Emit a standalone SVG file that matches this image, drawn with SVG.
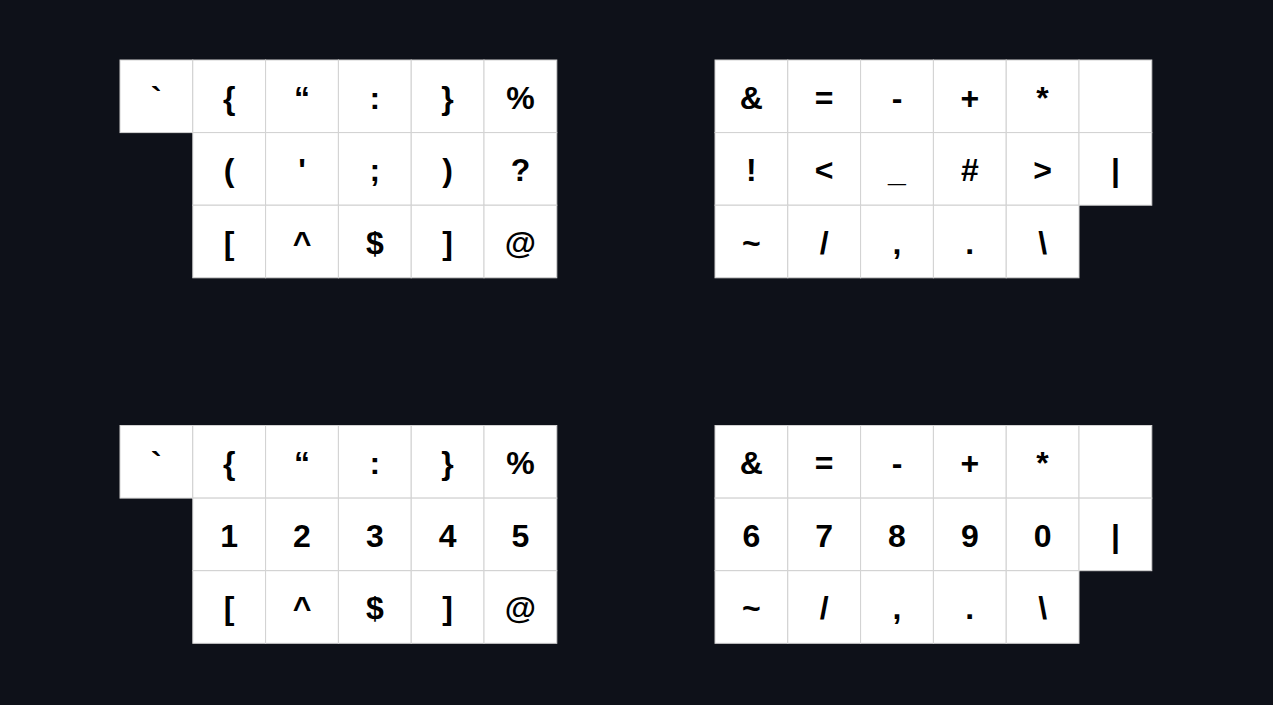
<svg xmlns="http://www.w3.org/2000/svg" width="1273" height="705" viewBox="0 0 1273 705">
<style>
.k{fill:#ffffff;stroke:#d2d2d2;stroke-width:1}
.t{font-family:"Liberation Sans",Arial,sans-serif;font-weight:bold;font-size:32px;fill:#000000;text-anchor:middle}
</style>
<rect x="0" y="0" width="1273" height="705" fill="#0e1119"/>
<g id="block-top-left">
<g id="tl-0-0" transform="translate(120,60)"><rect class="k" width="72.8" height="72.6"/><text class="t" x="36.4" y="48.5">`</text></g>
<g id="tl-0-1" transform="translate(192.8,60)"><rect class="k" width="72.8" height="72.6"/><text class="t" x="36.4" y="48.5">{</text></g>
<g id="tl-0-2" transform="translate(265.6,60)"><rect class="k" width="72.8" height="72.6"/><text class="t" x="36.4" y="48.5">“</text></g>
<g id="tl-0-3" transform="translate(338.4,60)"><rect class="k" width="72.8" height="72.6"/><text class="t" x="36.4" y="48.5">:</text></g>
<g id="tl-0-4" transform="translate(411.2,60)"><rect class="k" width="72.8" height="72.6"/><text class="t" x="36.4" y="48.5">}</text></g>
<g id="tl-0-5" transform="translate(484,60)"><rect class="k" width="72.8" height="72.6"/><text class="t" x="36.4" y="48.5">%</text></g>
<g id="tl-1-1" transform="translate(192.8,132.6)"><rect class="k" width="72.8" height="72.6"/><text class="t" x="36.4" y="48.5">(</text></g>
<g id="tl-1-2" transform="translate(265.6,132.6)"><rect class="k" width="72.8" height="72.6"/><text class="t" x="36.4" y="48.5">'</text></g>
<g id="tl-1-3" transform="translate(338.4,132.6)"><rect class="k" width="72.8" height="72.6"/><text class="t" x="36.4" y="48.5">;</text></g>
<g id="tl-1-4" transform="translate(411.2,132.6)"><rect class="k" width="72.8" height="72.6"/><text class="t" x="36.4" y="48.5">)</text></g>
<g id="tl-1-5" transform="translate(484,132.6)"><rect class="k" width="72.8" height="72.6"/><text class="t" x="36.4" y="48.5">?</text></g>
<g id="tl-2-1" transform="translate(192.8,205.2)"><rect class="k" width="72.8" height="72.6"/><text class="t" x="36.4" y="48.5">[</text></g>
<g id="tl-2-2" transform="translate(265.6,205.2)"><rect class="k" width="72.8" height="72.6"/><text class="t" x="36.4" y="48.5">^</text></g>
<g id="tl-2-3" transform="translate(338.4,205.2)"><rect class="k" width="72.8" height="72.6"/><text class="t" x="36.4" y="48.5">$</text></g>
<g id="tl-2-4" transform="translate(411.2,205.2)"><rect class="k" width="72.8" height="72.6"/><text class="t" x="36.4" y="48.5">]</text></g>
<g id="tl-2-5" transform="translate(484,205.2)"><rect class="k" width="72.8" height="72.6"/><text class="t" x="36.4" y="48.5" font-weight="normal">@</text></g>
</g>
<g id="block-top-right">
<g id="tr-0-0" transform="translate(715,60)"><rect class="k" width="72.8" height="72.6"/><text class="t" x="36.4" y="48.5">&amp;</text></g>
<g id="tr-0-1" transform="translate(787.8,60)"><rect class="k" width="72.8" height="72.6"/><text class="t" x="36.4" y="48.5">=</text></g>
<g id="tr-0-2" transform="translate(860.6,60)"><rect class="k" width="72.8" height="72.6"/><text class="t" x="36.4" y="48.5">-</text></g>
<g id="tr-0-3" transform="translate(933.4,60)"><rect class="k" width="72.8" height="72.6"/><text class="t" x="36.4" y="48.5">+</text></g>
<g id="tr-0-4" transform="translate(1006.2,60)"><rect class="k" width="72.8" height="72.6"/><text class="t" x="36.4" y="48.5">*</text></g>
<g id="tr-0-5" transform="translate(1079,60)"><rect class="k" width="72.8" height="72.6"/></g>
<g id="tr-1-0" transform="translate(715,132.6)"><rect class="k" width="72.8" height="72.6"/><text class="t" x="36.4" y="48.5">!</text></g>
<g id="tr-1-1" transform="translate(787.8,132.6)"><rect class="k" width="72.8" height="72.6"/><text class="t" x="36.4" y="48.5">&lt;</text></g>
<g id="tr-1-2" transform="translate(860.6,132.6)"><rect class="k" width="72.8" height="72.6"/><text class="t" x="36.4" y="48.5" font-weight="normal" fill="#777777">_</text></g>
<g id="tr-1-3" transform="translate(933.4,132.6)"><rect class="k" width="72.8" height="72.6"/><text class="t" x="36.4" y="48.5">#</text></g>
<g id="tr-1-4" transform="translate(1006.2,132.6)"><rect class="k" width="72.8" height="72.6"/><text class="t" x="36.4" y="48.5">&gt;</text></g>
<g id="tr-1-5" transform="translate(1079,132.6)"><rect class="k" width="72.8" height="72.6"/><text class="t" x="36.4" y="48.5">|</text></g>
<g id="tr-2-0" transform="translate(715,205.2)"><rect class="k" width="72.8" height="72.6"/><text class="t" x="36.4" y="48.5">~</text></g>
<g id="tr-2-1" transform="translate(787.8,205.2)"><rect class="k" width="72.8" height="72.6"/><text class="t" x="36.4" y="48.5">/</text></g>
<g id="tr-2-2" transform="translate(860.6,205.2)"><rect class="k" width="72.8" height="72.6"/><text class="t" x="36.4" y="48.5">,</text></g>
<g id="tr-2-3" transform="translate(933.4,205.2)"><rect class="k" width="72.8" height="72.6"/><text class="t" x="36.4" y="48.5">.</text></g>
<g id="tr-2-4" transform="translate(1006.2,205.2)"><rect class="k" width="72.8" height="72.6"/><text class="t" x="36.4" y="48.5">\</text></g>
</g>
<g id="block-bottom-left">
<g id="bl-0-0" transform="translate(120,425.5)"><rect class="k" width="72.8" height="72.6"/><text class="t" x="36.4" y="48.5">`</text></g>
<g id="bl-0-1" transform="translate(192.8,425.5)"><rect class="k" width="72.8" height="72.6"/><text class="t" x="36.4" y="48.5">{</text></g>
<g id="bl-0-2" transform="translate(265.6,425.5)"><rect class="k" width="72.8" height="72.6"/><text class="t" x="36.4" y="48.5">“</text></g>
<g id="bl-0-3" transform="translate(338.4,425.5)"><rect class="k" width="72.8" height="72.6"/><text class="t" x="36.4" y="48.5">:</text></g>
<g id="bl-0-4" transform="translate(411.2,425.5)"><rect class="k" width="72.8" height="72.6"/><text class="t" x="36.4" y="48.5">}</text></g>
<g id="bl-0-5" transform="translate(484,425.5)"><rect class="k" width="72.8" height="72.6"/><text class="t" x="36.4" y="48.5">%</text></g>
<g id="bl-1-1" transform="translate(192.8,498.1)"><rect class="k" width="72.8" height="72.6"/><text class="t" x="36.4" y="48.5">1</text></g>
<g id="bl-1-2" transform="translate(265.6,498.1)"><rect class="k" width="72.8" height="72.6"/><text class="t" x="36.4" y="48.5">2</text></g>
<g id="bl-1-3" transform="translate(338.4,498.1)"><rect class="k" width="72.8" height="72.6"/><text class="t" x="36.4" y="48.5">3</text></g>
<g id="bl-1-4" transform="translate(411.2,498.1)"><rect class="k" width="72.8" height="72.6"/><text class="t" x="36.4" y="48.5">4</text></g>
<g id="bl-1-5" transform="translate(484,498.1)"><rect class="k" width="72.8" height="72.6"/><text class="t" x="36.4" y="48.5">5</text></g>
<g id="bl-2-1" transform="translate(192.8,570.7)"><rect class="k" width="72.8" height="72.6"/><text class="t" x="36.4" y="48.5">[</text></g>
<g id="bl-2-2" transform="translate(265.6,570.7)"><rect class="k" width="72.8" height="72.6"/><text class="t" x="36.4" y="48.5">^</text></g>
<g id="bl-2-3" transform="translate(338.4,570.7)"><rect class="k" width="72.8" height="72.6"/><text class="t" x="36.4" y="48.5">$</text></g>
<g id="bl-2-4" transform="translate(411.2,570.7)"><rect class="k" width="72.8" height="72.6"/><text class="t" x="36.4" y="48.5">]</text></g>
<g id="bl-2-5" transform="translate(484,570.7)"><rect class="k" width="72.8" height="72.6"/><text class="t" x="36.4" y="48.5" font-weight="normal">@</text></g>
</g>
<g id="block-bottom-right">
<g id="br-0-0" transform="translate(715,425.5)"><rect class="k" width="72.8" height="72.6"/><text class="t" x="36.4" y="48.5">&amp;</text></g>
<g id="br-0-1" transform="translate(787.8,425.5)"><rect class="k" width="72.8" height="72.6"/><text class="t" x="36.4" y="48.5">=</text></g>
<g id="br-0-2" transform="translate(860.6,425.5)"><rect class="k" width="72.8" height="72.6"/><text class="t" x="36.4" y="48.5">-</text></g>
<g id="br-0-3" transform="translate(933.4,425.5)"><rect class="k" width="72.8" height="72.6"/><text class="t" x="36.4" y="48.5">+</text></g>
<g id="br-0-4" transform="translate(1006.2,425.5)"><rect class="k" width="72.8" height="72.6"/><text class="t" x="36.4" y="48.5">*</text></g>
<g id="br-0-5" transform="translate(1079,425.5)"><rect class="k" width="72.8" height="72.6"/></g>
<g id="br-1-0" transform="translate(715,498.1)"><rect class="k" width="72.8" height="72.6"/><text class="t" x="36.4" y="48.5">6</text></g>
<g id="br-1-1" transform="translate(787.8,498.1)"><rect class="k" width="72.8" height="72.6"/><text class="t" x="36.4" y="48.5">7</text></g>
<g id="br-1-2" transform="translate(860.6,498.1)"><rect class="k" width="72.8" height="72.6"/><text class="t" x="36.4" y="48.5">8</text></g>
<g id="br-1-3" transform="translate(933.4,498.1)"><rect class="k" width="72.8" height="72.6"/><text class="t" x="36.4" y="48.5">9</text></g>
<g id="br-1-4" transform="translate(1006.2,498.1)"><rect class="k" width="72.8" height="72.6"/><text class="t" x="36.4" y="48.5">0</text></g>
<g id="br-1-5" transform="translate(1079,498.1)"><rect class="k" width="72.8" height="72.6"/><text class="t" x="36.4" y="48.5">|</text></g>
<g id="br-2-0" transform="translate(715,570.7)"><rect class="k" width="72.8" height="72.6"/><text class="t" x="36.4" y="48.5">~</text></g>
<g id="br-2-1" transform="translate(787.8,570.7)"><rect class="k" width="72.8" height="72.6"/><text class="t" x="36.4" y="48.5">/</text></g>
<g id="br-2-2" transform="translate(860.6,570.7)"><rect class="k" width="72.8" height="72.6"/><text class="t" x="36.4" y="48.5">,</text></g>
<g id="br-2-3" transform="translate(933.4,570.7)"><rect class="k" width="72.8" height="72.6"/><text class="t" x="36.4" y="48.5">.</text></g>
<g id="br-2-4" transform="translate(1006.2,570.7)"><rect class="k" width="72.8" height="72.6"/><text class="t" x="36.4" y="48.5">\</text></g>
</g>
</svg>
